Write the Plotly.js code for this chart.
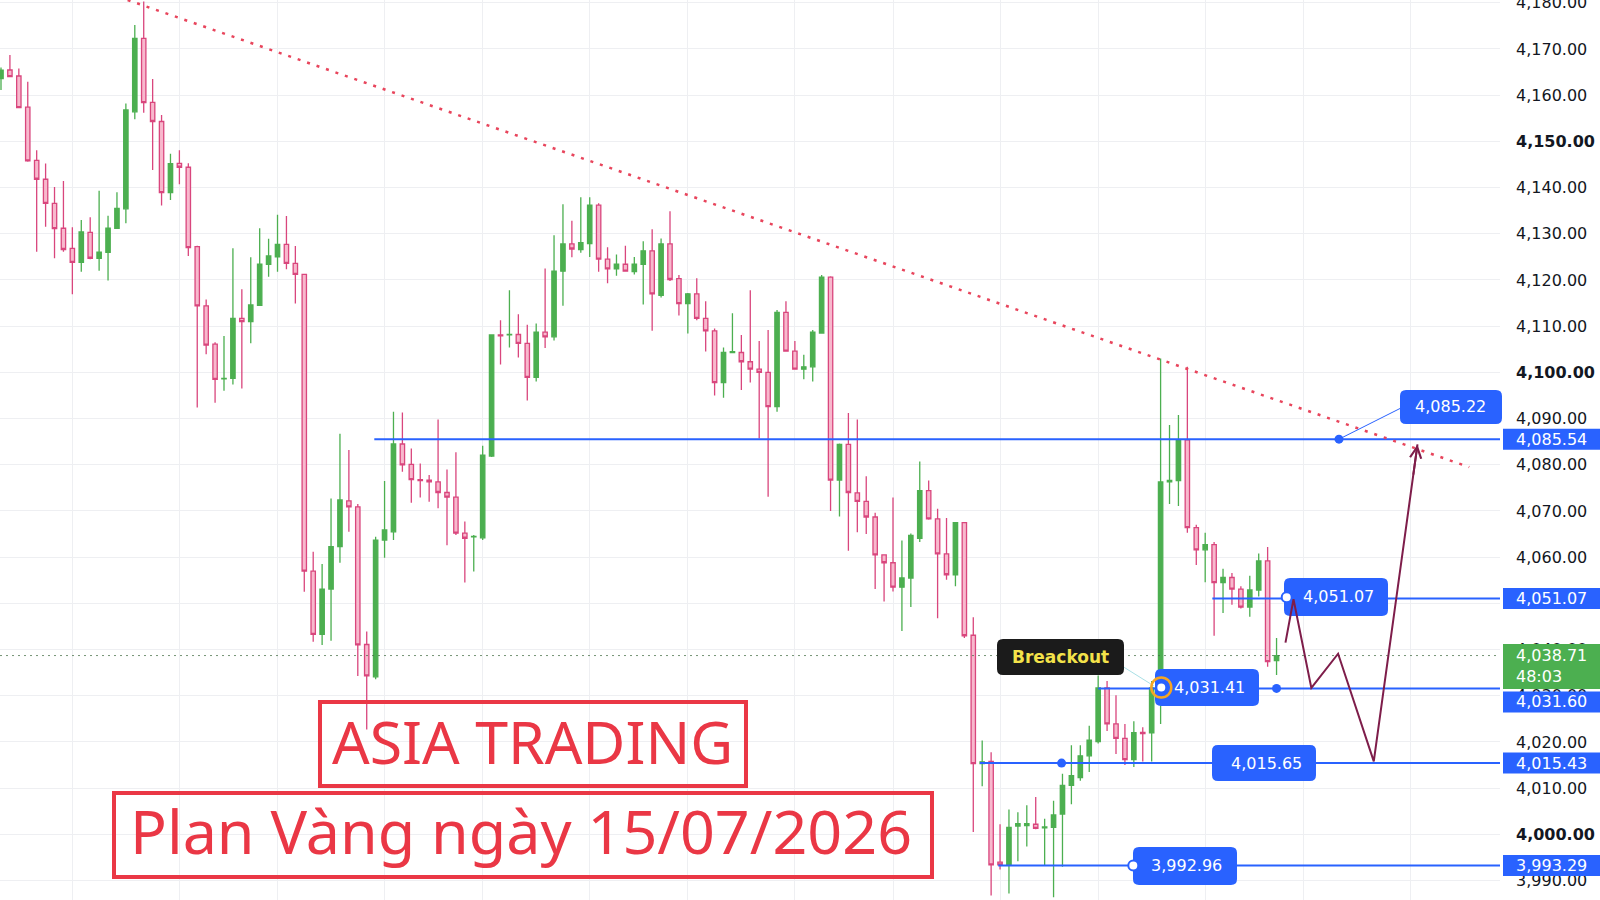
<!DOCTYPE html>
<html><head><meta charset="utf-8">
<script src="https://cdn.plot.ly/plotly-3.0.1.min.js"></script>
<style>html,body{margin:0;padding:0;background:#fff;overflow:hidden}#chart{width:1600px;height:900px}</style>
</head><body><div id="chart"></div>
<script>
// ---------- data ----------
const open = [4163.6,4165.45,4164.15,4157.4,4145.9,4141.8,4136.6,4131.2,4126.85,4123.8,
4130.3,4124.7,4126.0,4131.2,4135.4,4156.4,4172.3,4158.45,4154.3,4138.9,
4145.25,4144.4,4127.2,4114.4,4106.1,4098.6,4098.7,4111.7,4111.0,4114.5,
4123.4,4125.0,4127.7,4123.6,4121.2,4057.0,4043.3,4053.1,4062.3,4072.2,
4070.9,4041.1,4034.1,4063.7,4065.5,4084.5,4080.1,4076.8,4076.7,4076.3,
4074.0,4073.0,4065.2,4064.4,4064.2,4081.9,4108.1,4108.1,4108.2,4106.3,
4098.9,4108.7,4107.7,4121.9,4127.8,4126.6,4127.9,4136.2,4124.5,4122.4,
4123.4,4121.8,4123.4,4126.3,4116.7,4127.8,4120.3,4114.9,4117.0,4111.7,
4109.0,4097.8,4104.3,4104.3,4102.3,4100.7,4100.0,4092.6,4113.0,4104.6,
4100.7,4101.2,4108.5,4120.6,4076.7,4084.4,4073.9,4072.1,4068.7,4060.5,
4058.8,4053.5,4055.5,4064.1,4074.4,4068.3,4060.7,4056.2,4067.5,4043.1,
4015.3,4015.8,3994.0,3993.4,4001.8,4001.9,4002.2,4001.4,4001.5,4004.4,
4010.6,4012.3,4017.0,4020.1,4031.7,4023.9,4020.8,4016.2,4022.1,4022.0,
4031.7,4076.3,4076.6,4085.4,4066.4,4061.6,4062.7,4054.5,4055.6,4053.1,
4049.2,4052.9,4059.2,4037.6];
const high = [4166.0,4168.7,4165.8,4162.9,4148.1,4145.2,4140.1,4141.4,4131.4,4133.0,
4133.6,4139.3,4133.9,4139.0,4158.2,4175.2,4180.3,4163.5,4155.7,4147.3,
4148.1,4145.25,4127.4,4115.8,4106.5,4107.9,4126.85,4118.0,4124.9,4131.2,
4128.9,4134.1,4133.85,4127.35,4121.3,4061.2,4058.5,4072.7,4086.7,4083.2,
4071.5,4043.9,4064.4,4076.5,4091.5,4091.3,4083.5,4080.3,4077.8,4089.8,
4079.0,4082.7,4067.7,4064.8,4084.1,4108.1,4111.3,4117.8,4112.6,4110.3,
4110.6,4122.5,4129.7,4136.4,4132.8,4137.9,4137.9,4136.6,4127.1,4125.5,
4127.4,4125.0,4128.4,4131.0,4129.0,4134.9,4121.1,4117.2,4120.35,4115.4,
4109.5,4105.4,4112.8,4108.1,4117.8,4106.8,4109.2,4113.5,4115.4,4106.8,
4103.8,4109.2,4121.1,4120.8,4084.6,4091.2,4089.8,4077.5,4069.6,4060.6,
4072.9,4063.6,4065.1,4080.7,4076.6,4070.5,4068.5,4067.5,4067.6,4047.0,
4020.3,4017.8,4002.2,4005.4,4004.8,4006.3,4008.1,4003.4,4007.3,4013.1,
4019.3,4019.3,4023.5,4034.4,4033.2,4030.1,4023.9,4024.5,4023.2,4033.2,
4103.0,4088.6,4090.8,4101.2,4067.0,4065.3,4063.3,4057.5,4056.6,4053.7,
4056.0,4060.8,4062.2,4042.5];
const low = [4161.1,4163.9,4157.15,4145.6,4126.1,4131.5,4124.7,4126.1,4116.9,4121.8,
4124.5,4122.0,4119.9,4131.1,4132.3,4154.8,4156.2,4143.8,4136.1,4137.3,
4140.7,4125.2,4092.4,4103.9,4093.4,4096.0,4097.4,4096.5,4106.3,4114.5,
4120.7,4121.8,4122.3,4114.9,4052.5,4041.7,4041.0,4041.9,4058.8,4065.5,
4034.3,4022.7,4033.6,4059.9,4063.7,4078.5,4071.8,4072.9,4072.0,4070.6,
4062.6,4064.8,4054.5,4056.9,4063.7,4081.7,4101.7,4105.4,4103.2,4093.9,
4098.0,4105.3,4106.9,4114.4,4124.9,4125.9,4125.0,4121.8,4119.3,4120.9,
4121.9,4121.2,4114.7,4109.0,4116.2,4119.8,4112.3,4108.4,4111.3,4104.5,
4095.0,4094.5,4104.3,4096.2,4097.8,4085.7,4073.1,4091.5,4104.5,4100.7,
4098.5,4098.0,4108.5,4070.0,4068.8,4061.4,4065.4,4065.0,4053.1,4050.4,
4052.6,4044.0,4049.2,4063.3,4068.1,4046.8,4055.1,4053.7,4042.5,4000.5,
4010.4,3986.8,3992.4,3987.2,3994.2,3997.4,4001.1,3993.4,3986.4,3993.0,
4006.5,4011.6,4013.5,4019.7,4022.4,4017.4,4015.0,4014.6,4015.8,4015.8,
4023.9,4071.5,4071.1,4065.3,4058.3,4054.6,4043.0,4047.9,4049.7,4048.9,
4047.1,4051.5,4036.3,4034.5];
const close = [4165.4,4164.0,4157.3,4145.8,4141.8,4136.6,4131.1,4126.6,4123.8,4130.4,
4124.7,4126.0,4131.2,4135.5,4156.8,4172.3,4158.4,4154.3,4138.9,4145.2,
4144.4,4127.0,4114.4,4105.9,4098.5,4098.7,4111.7,4111.0,4114.6,4123.4,
4125.2,4127.7,4123.6,4121.2,4057.0,4043.3,4053.1,4062.3,4072.4,4070.9,
4041.0,4034.3,4063.7,4065.9,4084.5,4080.0,4076.8,4076.6,4076.3,4074.0,
4073.0,4065.2,4064.1,4064.5,4082.1,4108.1,4107.9,4108.2,4106.3,4098.9,
4108.7,4107.7,4121.9,4127.8,4126.7,4128.1,4136.2,4124.5,4122.4,4123.4,
4121.9,4123.4,4126.3,4117.0,4127.8,4120.1,4114.9,4117.0,4111.7,4109.0,
4097.8,4104.3,4104.5,4102.3,4100.7,4100.0,4092.6,4113.0,4104.6,4100.7,
4101.2,4108.7,4120.6,4076.7,4084.4,4074.0,4072.1,4068.7,4060.5,4058.8,
4053.5,4055.5,4064.7,4074.4,4068.3,4060.7,4056.2,4067.5,4043.0,4015.3,
4015.7,3993.4,3993.4,4001.5,4002.3,4002.3,4001.3,4001.6,4004.2,4010.6,
4012.7,4017.0,4020.4,4031.7,4023.9,4020.8,4016.2,4022.0,4021.8,4031.7,
4076.3,4076.6,4085.4,4066.4,4061.6,4062.7,4054.5,4055.6,4053.1,4049.2,
4052.9,4059.2,4037.4,4038.7];
const bars = open.map((_, i) => i);

const levelPrices = [4085.54, 4051.07, 4031.60, 4015.43, 3993.29];
const levelStart  = [41.85, 135.8, 123.0, 109.75, 111.8];
const axisLabels  = ['4,085.54', '4,051.07', '4,031.60', '4,015.43', '3,993.29'];
const calloutText = ['4,085.22', '4,051.07', '4,031.41', '4,015.65', '3,992.96'];
const lastPrice = 4038.71, lastPriceText = '4,038.71', countdown = '48:03';

const trendX = [14.2, 164.6];
const trendY = [4180.6, 4079.5];
const planX = [144.0, 144.9, 146.9, 149.9, 153.9, 158.8];
const planY = [4041.5, 4050.9, 4031.7, 4039.1, 4015.8, 4084.4];
const dotX = [150.0, 143.0, 118.9];
const dotY = [4085.54, 4031.60, 4015.43];

const yTicks = [3990,4000,4010,4020,4030,4040,4050,4060,4070,4080,4090,4100,4110,4120,4130,4140,4150,4160,4170,4180];
const boldTicks = [4000, 4100, 4150];
const hiddenTicks = [4050];           // fully covered by a price tag in the reference
const xGrid = [8,20,31,43,54,66,77,89,100,112,123,135,146,158];

const title1 = 'ASIA TRADING';
const title2 = 'Plan Vàng ngày 15/07/2026';
const tagText = 'Breackout';

// ---------- geometry helpers ----------
const W = 1500, H = 900;
const XR = [-0.112, 168.05], YR = [3985.8, 4180.6];
const xpx = v => (v - XR[0]) / (XR[1] - XR[0]) * W;
const ypx = p => (YR[1] - p) / (YR[1] - YR[0]) * H;
const PX = v => +(v / W).toFixed(5);
const PY = v => +(1 - v / H).toFixed(5);
function rrect(x0, y0, x1, y1, r) {
  return `M${PX(x0+r)},${PY(y0)} L${PX(x1-r)},${PY(y0)} Q${PX(x1)},${PY(y0)} ${PX(x1)},${PY(y0+r)} ` +
         `L${PX(x1)},${PY(y1-r)} Q${PX(x1)},${PY(y1)} ${PX(x1-r)},${PY(y1)} L${PX(x0+r)},${PY(y1)} ` +
         `Q${PX(x0)},${PY(y1)} ${PX(x0)},${PY(y1-r)} L${PX(x0)},${PY(y0+r)} Q${PX(x0)},${PY(y0)} ${PX(x0+r)},${PY(y0)} Z`;
}
const BLUE = '#2962ff', GREEN = '#4caf50', RED = '#ea3745';

// ---------- traces ----------
const traces = [];
traces.push({ type: 'scatter', mode: 'lines', x: [XR[0], XR[1]], y: [lastPrice, lastPrice],
  line: { color: 'rgba(70,110,70,0.75)', width: 1, dash: '2px,4px' }, hoverinfo: 'skip', showlegend: false });
levelPrices.forEach((p, k) => traces.push({ type: 'scatter', mode: 'lines', x: [levelStart[k], XR[1] + 5], y: [p, p],
  line: { color: BLUE, width: 2 }, hoverinfo: 'skip', showlegend: false }));
traces.push({ type: 'candlestick', x: bars, open, high, low, close, whiskerwidth: 0,
  increasing: { line: { color: GREEN, width: 1.3 }, fillcolor: GREEN },
  decreasing: { line: { color: '#d9467d', width: 1.3 }, fillcolor: '#f8b8cd' },
  hoverinfo: 'skip', showlegend: false });
traces.push({ type: 'scatter', mode: 'lines', x: trendX, y: trendY,
  line: { color: '#e8455c', width: 2.5, dash: '3px,7px' }, hoverinfo: 'skip', showlegend: false });
traces.push({ type: 'scatter', mode: 'markers', x: dotX, y: dotY,
  marker: { color: BLUE, size: 9 }, hoverinfo: 'skip', showlegend: false });

// ---------- shapes ----------
const shapes = [];
const paperShape = (o) => Object.assign({ xref: 'paper', yref: 'paper', layer: 'above' }, o);
// red title boxes
shapes.push(paperShape({ type: 'rect', x0: PX(320), x1: PX(746), y0: PY(702), y1: PY(786), line: { color: RED, width: 4 } }));
shapes.push(paperShape({ type: 'rect', x0: PX(114), x1: PX(932), y0: PY(793), y1: PY(877), line: { color: RED, width: 4 } }));
// callout boxes on chart
const boxes = [[1400, 390, 1502, 424], [1284, 578, 1388, 616], [1155, 669, 1259, 706], [1212, 745, 1316, 781], [1133, 847, 1237, 885]];
shapes.push(paperShape({ type: 'line', x0: PX(xpx(dotX[0])), y0: PY(ypx(dotY[0])), x1: PX(1401), y1: PY(408), line: { color: BLUE, width: 1 } }));
boxes.forEach(b => shapes.push(paperShape({ type: 'path', path: rrect(b[0], b[1], b[2], b[3], 6), fillcolor: BLUE, line: { width: 0 } })));
// breakout tag and connector
shapes.push(paperShape({ type: 'line', x0: PX(1122), y0: PY(666), x1: PX(1154), y1: PY(686), line: { color: '#a9e0e6', width: 1 } }));
shapes.push(paperShape({ type: 'path', path: rrect(997, 639, 1124, 675, 6), fillcolor: '#1b1b1b', line: { width: 0 } }));
// anchor circles
[[1161.3, 687.5], [1286.7, 597.3], [1133.3, 865.5]].forEach(c => shapes.push(paperShape({ type: 'circle',
  x0: PX(c[0] - 5), x1: PX(c[0] + 5), y0: PY(c[1] - 5), y1: PY(c[1] + 5), fillcolor: '#ffffff', line: { color: BLUE, width: 2 } })));
shapes.push(paperShape({ type: 'circle', x0: PX(1151.3), x1: PX(1171.3), y0: PY(677.5), y1: PY(697.5), line: { color: '#f5a524', width: 2.5 } }));
// projected path (drawn over boxes)
let d = `M${planX[0]},${planY[0]}`;
for (let k = 1; k < planX.length; k++) d += ` L${planX[k]},${planY[k]}`;
shapes.push({ type: 'path', xref: 'x', yref: 'y', layer: 'above', path: d, line: { color: '#7e1d4a', width: 2 } });
// right axis price tags (the 4,031.60 tag is pushed down below the last-price tag)
const tagShift = [0, 0, 13.5, 0, 0];
levelPrices.forEach((p, k) => { const c = ypx(p) + tagShift[k]; shapes.push(paperShape({ type: 'rect', x0: PX(1503), x1: PX(1601), y0: PY(c - 10.5), y1: PY(c + 10.5), fillcolor: BLUE, line: { width: 0 } })); });
{ const c = ypx(lastPrice); shapes.push(paperShape({ type: 'rect', x0: PX(1503), x1: PX(1601), y0: PY(c - 11.5), y1: PY(c + 33.5), fillcolor: GREEN, line: { width: 0 } })); }

// ---------- annotations ----------
const ann = [];
const FONT = 'DejaVu Sans, Verdana, sans-serif';
ann.push({ xref: 'paper', yref: 'paper', x: PX(532), y: PY(741), text: title1, showarrow: false,
  font: { family: 'Noto Sans, sans-serif', size: 59, color: RED }, xanchor: 'center', yanchor: 'middle' });
ann.push({ xref: 'paper', yref: 'paper', x: PX(521), y: PY(831), text: title2, showarrow: false,
  font: { family: 'Noto Sans, sans-serif', size: 61, color: RED }, xanchor: 'center', yanchor: 'middle' });
boxes.forEach((b, k) => ann.push({ xref: 'paper', yref: 'paper', x: PX((b[0] + b[2]) / 2 + (k === 0 ? 0 : 2)), y: PY((b[1] + b[3]) / 2),
  text: calloutText[k], showarrow: false, font: { family: FONT, size: 16, color: '#ffffff' }, xanchor: 'center', yanchor: 'middle' }));
ann.push({ xref: 'paper', yref: 'paper', x: PX(1060.5), y: PY(657), text: '<b>' + tagText + '</b>', showarrow: false,
  font: { family: FONT, size: 17, color: '#f3e24a' }, xanchor: 'center', yanchor: 'middle' });
levelPrices.forEach((p, k) => ann.push({ xref: 'paper', yref: 'paper', x: PX(1514), y: PY(ypx(p) + tagShift[k]), text: axisLabels[k], showarrow: false,
  font: { family: FONT, size: 16, color: '#ffffff' }, xanchor: 'left', yanchor: 'middle' }));
ann.push({ xref: 'paper', yref: 'y', x: PX(1514), y: lastPrice, text: lastPriceText, showarrow: false,
  font: { family: FONT, size: 16, color: '#ffffff' }, xanchor: 'left', yanchor: 'middle' });
ann.push({ xref: 'paper', yref: 'paper', x: PX(1514), y: PY(ypx(lastPrice) + 21), text: countdown, showarrow: false,
  font: { family: FONT, size: 16, color: '#ffffff' }, xanchor: 'left', yanchor: 'middle' });
// arrow head of projected path
const n = planX.length - 1;
ann.push({ x: planX[n], y: planY[n], xref: 'x', yref: 'y', axref: 'x', ayref: 'y',
  ax: planX[n] - (planX[n] - planX[n-1]) * 0.1, ay: planY[n] - (planY[n] - planY[n-1]) * 0.1,
  text: '', showarrow: true, arrowhead: 5, arrowsize: 1.1, arrowwidth: 2, arrowcolor: '#7e1d4a', standoff: 0 });

const tickText = yTicks.map(v => {
  if (hiddenTicks.includes(v)) return '';
  const s = v.toLocaleString('en-US', { minimumFractionDigits: 2, maximumFractionDigits: 2 });
  return boldTicks.includes(v) ? '<b>' + s + '</b>' : s; });

const layout = {
  width: 1600, height: 900, margin: { l: 0, r: 100, t: 0, b: 0 },
  paper_bgcolor: '#ffffff', plot_bgcolor: '#ffffff', showlegend: false,
  xaxis: { range: XR, showticklabels: false, tickvals: xGrid, showgrid: true, gridcolor: '#eeeff2', gridwidth: 1,
    zeroline: false, showline: false, ticks: '', rangeslider: { visible: false }, fixedrange: true },
  yaxis: { range: YR, side: 'right', tickvals: yTicks, ticktext: tickText, showgrid: true, gridcolor: '#eeeff2', gridwidth: 1,
    zeroline: false, showline: false, ticks: '', ticklabelstandoff: 15, ticklabeloverflow: 'allow',
    tickfont: { family: FONT, size: 16, color: '#131722' }, fixedrange: true },
  shapes, annotations: ann
};
Plotly.newPlot('chart', traces, layout, { displayModeBar: false, staticPlot: true });
</script>
</body></html>
